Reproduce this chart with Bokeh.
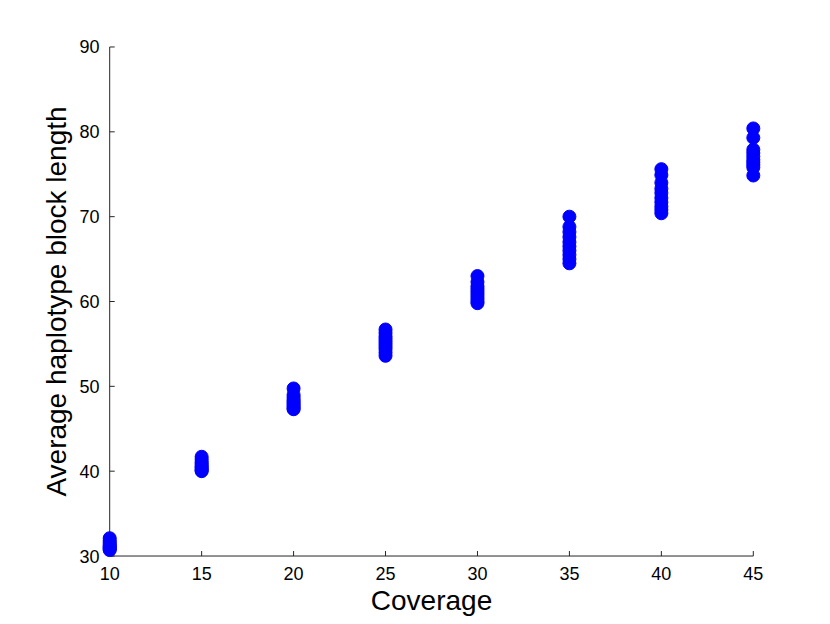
import math
from bokeh.plotting import figure
from bokeh.models import Range1d, FixedTicker, ColumnDataSource
from bokeh.embed import file_html
from bokeh.resources import INLINE

coverage = [10, 15, 20, 25, 30, 35, 40, 45]
block_len_10 = [32.1, 31.8, 31.6, 31.4, 31.2, 31.1, 31.0, 30.9, 30.8, 30.7]
block_len_15 = [41.7, 41.4, 41.1, 40.9, 40.7, 40.5, 40.4, 40.2, 40.1, 40.0]
block_len_20 = [49.75, 49.0, 48.7, 48.4, 48.2, 48.0, 47.8, 47.6, 47.4, 47.3]
block_len_25 = [56.7, 56.3, 55.9, 55.6, 55.3, 55.0, 54.7, 54.4, 54.0, 53.6]
block_len_30 = [63.0, 62.3, 61.8, 61.5, 61.2, 60.9, 60.6, 60.3, 60.0, 59.8]
block_len_35 = [70.0, 68.8, 68.2, 67.6, 67.0, 66.5, 66.0, 65.5, 65.0, 64.5]
block_len_40 = [75.6, 74.9, 74.0, 73.3, 72.8, 72.2, 71.7, 71.2, 70.8, 70.4]
block_len_45 = [80.4, 79.3, 77.9, 77.5, 77.1, 76.7, 76.4, 76.1, 75.8, 74.85]
x_ticks = [10, 15, 20, 25, 30, 35, 40, 45]
y_ticks = [30, 40, 50, 60, 70, 80, 90]
x_lim = (10, 45)
y_lim = (30, 90)

groups = [block_len_10, block_len_15, block_len_20, block_len_25,
          block_len_30, block_len_35, block_len_40, block_len_45]
xs, ys = [], []
for c, vals in zip(coverage, groups):
    for v in vals:
        xs.append(c)
        ys.append(v)
src = ColumnDataSource(data=dict(x=xs, y=ys))

FONT = "Liberation Sans"
AXIS_COLOR = "#262626"
XPAD, YPAD = 0.5, 1.0

p = figure(width=814, height=622, output_backend="svg", toolbar_location=None,
           x_range=Range1d(x_lim[0] - XPAD, x_lim[1] + XPAD),
           y_range=Range1d(y_lim[0] - YPAD, y_lim[1] + YPAD),
           min_border_left=100, min_border_top=38, min_border_right=52,
           min_border_bottom=58)
p.outline_line_color = None
p.grid.visible = False

# axis lines (box-less MATLAB style), drawn at the data limits
p.segment(x0=[x_lim[0], x_lim[0]], y0=[y_lim[0], y_lim[0]],
          x1=[x_lim[0], x_lim[1]], y1=[y_lim[1], y_lim[0]],
          line_color=AXIS_COLOR, line_width=1)
# inward tick marks
p.ray(x=[x_lim[0]] * len(y_ticks), y=y_ticks, length=5, angle=0,
      length_units="screen", line_color=AXIS_COLOR, line_width=1)
p.ray(x=x_ticks, y=[y_lim[0]] * len(x_ticks), length=5, angle=math.pi / 2,
      length_units="screen", line_color=AXIS_COLOR, line_width=1)

p.scatter("x", "y", source=src, size=13, fill_color="#0000ff",
          line_color="#0000ff", line_width=1)

p.xaxis.ticker = FixedTicker(ticks=x_ticks)
p.yaxis.ticker = FixedTicker(ticks=y_ticks)
for ax in (p.xaxis[0], p.yaxis[0]):
    ax.axis_line_color = None
    ax.major_tick_line_color = None
    ax.minor_tick_line_color = None
    ax.major_tick_in = 0
    ax.major_tick_out = 0
    ax.major_label_text_font = FONT
    ax.major_label_text_font_size = "18px"
    ax.major_label_text_color = "black"
    ax.axis_label_text_font = FONT
    ax.axis_label_text_font_size = "28px"
    ax.axis_label_text_font_style = "normal"
    ax.axis_label_text_color = "black"

p.xaxis.axis_label = "Coverage"
p.yaxis.axis_label = "Average haplotype block length"
p.xaxis.major_label_standoff = 2
p.yaxis.major_label_standoff = 1
p.xaxis.axis_label_standoff = 2
p.yaxis.axis_label_standoff = 4

open("out.html", "w").write(file_html(p, INLINE))
